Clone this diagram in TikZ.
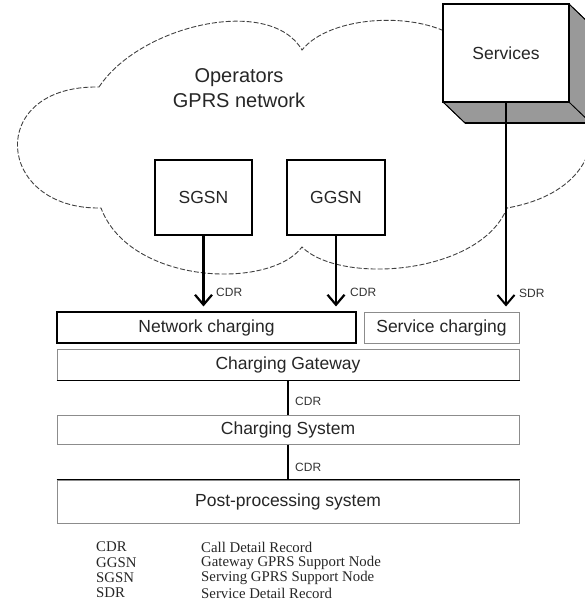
\documentclass[tikz,border=0pt]{standalone}
\usepackage{fontspec}
\setmainfont{Liberation Sans}
\newfontfamily\legendfont{Liberation Serif}
\usetikzlibrary{arrows.meta}
\begin{document}
\begin{tikzpicture}[x=1pt,y=-1pt,
  box/.style={draw=black,line width=1.1pt,fill=white,inner sep=0pt,font=\fontsize{17.5}{20}\selectfont,text=black!85},
  lbox/.style={draw=black!45,line width=1pt,fill=white,inner sep=0pt,font=\fontsize{17.5}{20}\selectfont,text=black!85},
  lab/.style={font=\fontsize{12}{14}\selectfont,anchor=west,inner sep=0pt,text=black!80},
  legend/.style={font=\legendfont\fontsize{14.8}{15}\selectfont,anchor=west,inner sep=0pt,text=black!85},
  flow/.style={line width=2.4pt,shorten >=5pt,-{Straight Barb[length=10pt,width=17pt,line width=2.2pt]}},
  thinflow/.style={line width=1.2pt,shorten >=5pt,-{Straight Barb[length=10pt,width=17pt,line width=2pt]}},
  cloudline/.style={draw=black!75,line width=0.9pt,dash pattern=on 5pt off 2pt},
  face/.style={fill=black!40,draw=black,line width=0.8pt}
]
\useasboundingbox (0,0) rectangle (585,604);
\clip (0,0) rectangle (585,604);

% cloud
\draw[cloudline] (99,87) .. controls (140,25) and (270,-5) .. (302,50)
  .. controls (330,15) and (420,10) .. (460,40)
  .. controls (612,50) and (638,185) .. (507,208)
  .. controls (480,275) and (340,285) .. (302,247)
  .. controls (270,290) and (130,285) .. (101,208)
  .. controls (-5,210) and (-15,85) .. (99,87);

\node[font=\fontsize{20}{25}\selectfont,align=center,text=black!85] (op) at (239,88) {Operators\\GPRS network};

% services box (3D)
\fill[face] (443,102) -- (569,102) -- (591,123) -- (465,123) -- cycle;
\fill[face] (569,4) -- (591,25) -- (591,123) -- (569,102) -- cycle;
\draw[line width=0.8pt] (443,102) -- (465,123);
\draw[line width=0.8pt] (569,4) -- (591,25);
\draw[line width=1.6pt] (465,123) -- (591,123);
\node[box,minimum width=126pt,minimum height=98pt] (svc) at (506,53) {Services};

% network elements
\node[box,minimum width=97pt,minimum height=75pt] (sgsn) at (203.5,197.5) {SGSN};
\node[box,minimum width=98pt,minimum height=75pt] (ggsn) at (336,197.5) {GGSN};

% charging boxes
\node[box,minimum width=299pt,minimum height=31pt] (nc) at (206.5,327.5) {Network charging};
\node[lbox,minimum width=155pt,minimum height=31pt] (sc) at (441.5,327.5) {Service charging};
\node[lbox,minimum width=462pt,minimum height=31pt] (cg) at (288,364.5) {Charging Gateway};
\node[lbox,minimum width=462pt,minimum height=29pt] (cs) at (288,429.5) {Charging System};
\node[lbox,minimum width=462pt,minimum height=43pt] (pp) at (288,501.5) {Post-processing system};
\draw[line width=1.5pt] (cg.south west) -- (cg.south east);
\draw[line width=1.5pt] (pp.north west) -- (pp.north east);

% arrows
\draw[flow] (sgsn.south) -- (sgsn.south |- nc.north);
\draw[flow] (ggsn.south) -- (ggsn.south |- nc.north);
\draw[thinflow] (svc.south) -- (svc.south |- sc.north);
\node[lab] (l1) at (216,292) {CDR};
\node[lab] (l2) at (350,292) {CDR};
\node[lab] (l3) at (519,293) {SDR};

\draw[line width=1.2pt] (cg.south) -- (cs.north);
\draw[line width=1.2pt] (cs.south) -- (pp.north);
\node[lab] (l4) at (295,401) {CDR};
\node[lab] (l5) at (295,467) {CDR};

% legend
\node[legend] (k1) at (96,547) {CDR};
\node[legend] (k2) at (96,563) {GGSN};
\node[legend] (k3) at (96,578) {SGSN};
\node[legend] (k4) at (96,593) {SDR};
\node[legend] (d1) at (201,547) {Call Detail Record};
\node[legend] (d2) at (201,563) {Gateway GPRS Support Node};
\node[legend] (d3) at (201,578) {Serving GPRS Support Node};
\node[legend] (d4) at (201,593) {Service Detail Record};
\end{tikzpicture}
\end{document}
